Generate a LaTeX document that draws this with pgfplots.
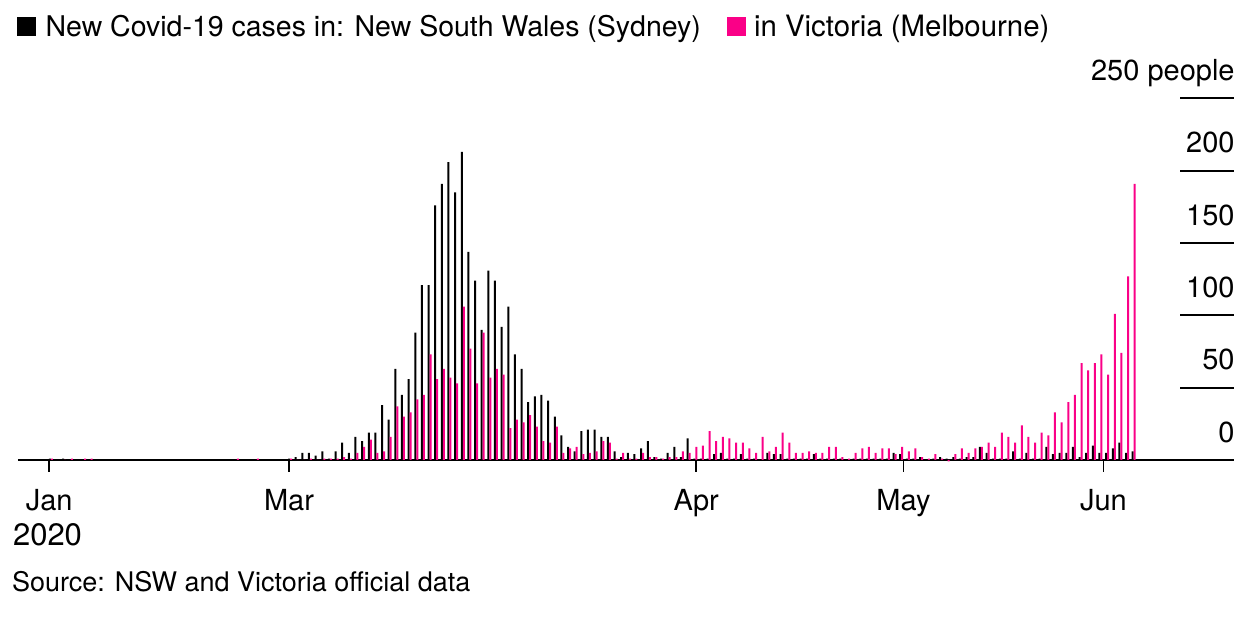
\documentclass[border=0pt]{standalone}
\usepackage{fontspec}
\setmainfont{TeX Gyre Heros}
\usepackage{pgfplots}
\pgfplotsset{compat=1.18}
\usepackage{pgfplotstable}
\definecolor{vicpink}{RGB}{250,0,135}

\pgfplotstableread{
idx nsw vic
-36 1 1
-34 1 0
-33 0 1
-31 0 1
-30 0 1
-8 0 1
-5 0 1
0 1 1
1 2 0
2 5 0
3 5 1
4 3 0
5 6 1
6 1 1
7 6 1
8 12 2
9 5 1
10 16 5
11 13 9
12 19 14
13 19 5
14 38 6
15 28 16
16 63 37
17 45 30
18 56 33
19 88 42
20 121 45
21 121 73
22 176 56
23 191 63
24 206 57
25 185 53
26 213 106
27 144 77
28 124 53
29 90 88
30 131 57
31 124 63
32 92 59
33 106 22
34 73 28
35 63 26
36 40 31
37 44 23
38 45 13
39 41 12
40 30 23
41 17 5
42 9 8
43 6 9
44 20 4
45 21 5
46 21 6
47 16 13
48 16 12
49 6 1
50 2 5
51 5 1
52 4 1
53 8 5
54 13 2
55 2 2
56 1 1
57 5 2
58 9 2
59 2 6
60 15 5
61 1 9
62 1 10
63 1 20
64 4 13
65 5 16
66 1 15
67 1 12
68 4 12
69 1 8
70 1 5
71 0 16
72 5 6
73 4 9
74 4 19
75 1 12
76 1 5
77 1 5
78 1 6
79 4 5
80 1 5
81 1 9
82 1 9
83 1 2
84 0 1
85 1 5
86 1 8
87 1 9
88 1 5
89 1 8
90 1 8
91 5 4
92 4 9
93 1 6
94 1 8
95 2 2
96 0 1
97 1 4
98 2 1
99 1 -1
100 2 4
101 1 8
102 2 5
103 2 8
104 9 9
105 5 12
106 1 9
107 1 19
108 1 16
109 6 12
110 1 24
111 5 16
112 1 12
113 1 19
114 9 17
115 4 33
116 5 26
117 5 40
118 9 45
119 2 67
120 5 62
121 10 67
122 5 73
123 5 59
124 8 101
125 12 74
126 5 127
127 6 191
}\covidtable

\newcommand{\lblfont}{\fontsize{14.5}{17}\selectfont}

\begin{document}
\begin{tikzpicture}[x=1pt,y=1pt]
\path[use as bounding box] (0,0) rectangle (629,310);
\begin{axis}[
  at={(9pt,80pt)}, anchor=south west, scale only axis,
  width=608pt, height=180.75pt,
  xmin=-40.8, xmax=142.25, ymin=0, ymax=250,
  enlargelimits=false, clip=false,
  axis x line*=bottom, axis y line=none,
  x axis line style={line width=1pt, -},
  xtick={-36.1,0,61.3,92.5,122.6},
  xticklabels={Jan,Mar,Apr,May,Jun},
  tick align=outside, major tick length=6pt,
  xtick style={line width=0.9pt, black},
  ytick=\empty,
  xticklabel style={font=\lblfont, anchor=base, inner sep=0pt, yshift=-19.3pt},
  ybar, bar width=1pt,
]
\addplot[fill=black, draw=none, bar shift=0pt] table[x=idx,y=nsw]{\covidtable};
\addplot[fill=vicpink, draw=none, bar shift=1pt] table[x=idx,y=vic]{\covidtable};
\pgfplotsinvokeforeach{50,100,150,200,250}{
  \draw[line width=1pt] (axis cs:134.13,#1) -- (axis cs:142.25,#1);
}
\pgfplotsinvokeforeach{0,50,100,150,200}{
  \node[anchor=base east, inner sep=0pt, font=\lblfont] at (axis cs:142.4,#1) [yshift=8.9pt] {#1};
}
\node[anchor=base east, inner sep=0pt, font=\lblfont] at (axis cs:142.4,250) [yshift=8.9pt] {250 people};
\end{axis}
% x label second line
\node[anchor=base, inner sep=0pt, font=\fontsize{15.5}{17}\selectfont] at (23.75,37.2) {2020};
% legend
\fill[black] (8.25,291.75) rectangle (18,301.5);
\node[anchor=base west, inner sep=0pt, font=\fontsize{14.25}{17}\selectfont] at (22.6,291.75) {New Covid-19 cases in: New South Wales (Sydney)};
\fill[vicpink] (363.4,291.75) rectangle (373.1,301.5);
\node[anchor=base west, inner sep=0pt, font=\fontsize{14.7}{17}\selectfont] at (376.8,291.75) {in Victoria (Melbourne)};
% source
\node[anchor=base west, inner sep=0pt, font=\fontsize{13.5}{16}\selectfont] at (5.8,14.2) {Source: NSW and Victoria official data};
\end{tikzpicture}
\end{document}
